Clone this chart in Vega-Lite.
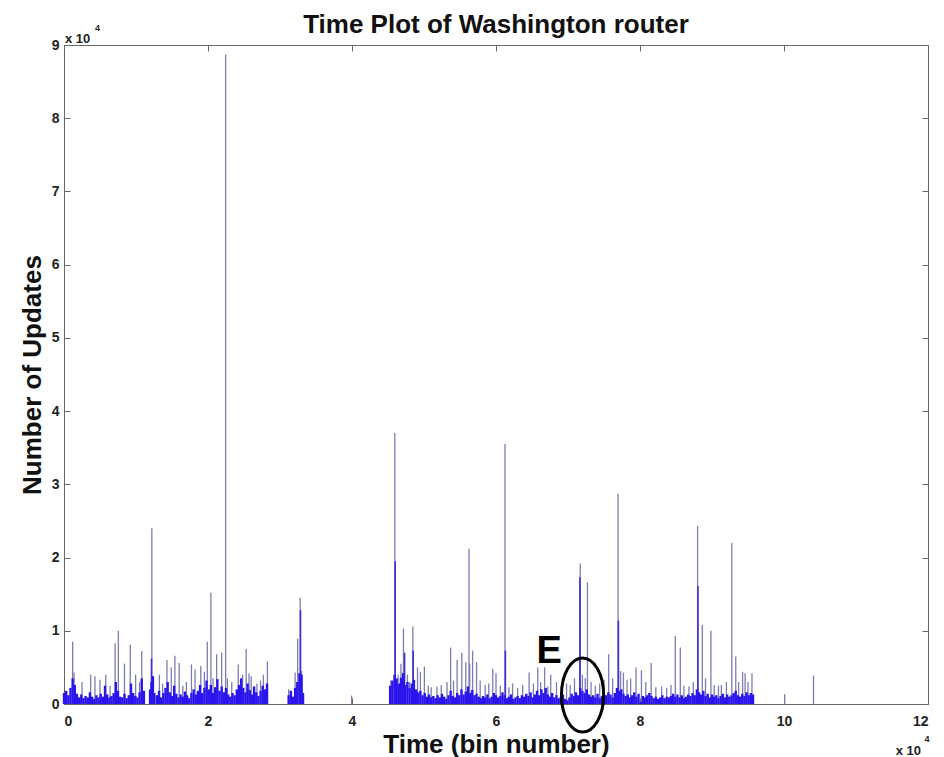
{
  "$schema": "https://vega.github.io/schema/vega-lite/v6.json",
  "width": 864,
  "height": 659,
  "autosize": "none",
  "padding": {"left": 64, "top": 45, "right": 16, "bottom": 53},
  "background": "white",
  "title": {"text": "Time Plot of Washington router", "font": "Liberation Sans", "fontSize": 26, "fontWeight": "bold", "color": "#111111", "offset": 5, "dy": 19, "anchor": "middle"},
  "config": {
    "view": {"stroke": "#666666", "strokeWidth": 1},
    "axis": {"grid": false, "domainColor": "#666666", "tickColor": "#666666", "tickSize": -6, "labelFont": "Liberation Sans", "labelFontSize": 14, "labelFontWeight": "bold", "labelColor": "#222222", "titleFont": "Liberation Sans", "titleFontWeight": "bold", "titleColor": "#111111"}
  },
  "datasets": {
    "base": [
      {"t":0,"v":1500},{"t":300,"v":1800},{"t":600,"v":1200},{"t":900,"v":2200},{"t":1200,"v":3500},{"t":1500,"v":2600},{"t":1800,"v":1400},{"t":2100,"v":900},{"t":2400,"v":1300},{"t":2700,"v":800},
      {"t":3000,"v":1100},{"t":3300,"v":900},{"t":3600,"v":1600},{"t":3900,"v":1000},{"t":4200,"v":700},{"t":4500,"v":1200},{"t":4800,"v":900},{"t":5100,"v":1400},{"t":5400,"v":1000},{"t":5700,"v":2500},
      {"t":6000,"v":1300},{"t":6300,"v":900},{"t":6600,"v":1100},{"t":6900,"v":1500},{"t":7200,"v":3000},{"t":7500,"v":1800},{"t":7800,"v":1000},{"t":8100,"v":900},{"t":8400,"v":1400},{"t":8700,"v":800},
      {"t":9000,"v":1200},{"t":9300,"v":2800},{"t":9600,"v":1500},{"t":9900,"v":1100},{"t":10200,"v":900},{"t":10500,"v":1600},{"t":10800,"v":3500},{"t":11100,"v":1800},
      {"t":11950,"v":2000},{"t":12150,"v":3000},{"t":12350,"v":3800},{"t":12550,"v":1500},
      {"t":12900,"v":1200},{"t":13200,"v":1800},{"t":13500,"v":900},{"t":13800,"v":1500},{"t":14100,"v":2200},{"t":14400,"v":3000},{"t":14700,"v":1600},{"t":15000,"v":1100},{"t":15300,"v":2500},{"t":15600,"v":1400},
      {"t":15900,"v":900},{"t":16200,"v":1300},{"t":16500,"v":1000},{"t":16800,"v":1700},{"t":17100,"v":1200},{"t":17400,"v":800},{"t":17700,"v":1500},{"t":18000,"v":2000},{"t":18300,"v":1300},{"t":18600,"v":1800},
      {"t":18900,"v":2600},{"t":19200,"v":1500},{"t":19500,"v":2200},{"t":19800,"v":3200},{"t":20100,"v":2000},{"t":20400,"v":2600},{"t":20700,"v":1500},{"t":21000,"v":2300},{"t":21300,"v":3400},{"t":21600,"v":1800},
      {"t":21900,"v":2400},{"t":22200,"v":1600},{"t":22500,"v":2200},{"t":22800,"v":1300},{"t":23100,"v":1000},{"t":23400,"v":1500},{"t":23700,"v":1200},{"t":24000,"v":2000},{"t":24300,"v":2600},{"t":24600,"v":3500},
      {"t":24900,"v":2200},{"t":25200,"v":1600},{"t":25500,"v":2800},{"t":25800,"v":1900},{"t":26100,"v":1300},{"t":26400,"v":2400},{"t":26700,"v":1600},{"t":27000,"v":1100},{"t":27300,"v":1800},{"t":27600,"v":2500},
      {"t":27900,"v":2000},{"t":28200,"v":2800},
      {"t":31200,"v":1200},{"t":31500,"v":1800},{"t":31800,"v":1000},{"t":32100,"v":2200},{"t":32400,"v":3000},{"t":32700,"v":4200},{"t":33000,"v":4000},{"t":33200,"v":1500},
      {"t":45300,"v":2500},{"t":45600,"v":3200},{"t":45900,"v":4000},{"t":46200,"v":3500},{"t":46500,"v":2800},{"t":46800,"v":3600},{"t":47100,"v":4200},{"t":47400,"v":2600},{"t":47700,"v":3000},{"t":48000,"v":2200},
      {"t":48300,"v":2800},{"t":48600,"v":3300},{"t":48900,"v":2000},{"t":49200,"v":1600},{"t":49500,"v":1800},{"t":49800,"v":1200},{"t":50100,"v":1500},{"t":50400,"v":1000},{"t":50700,"v":1300},{"t":51000,"v":900},
      {"t":51300,"v":1100},{"t":51600,"v":800},{"t":51900,"v":1200},{"t":52200,"v":900},{"t":52500,"v":1400},{"t":52800,"v":1000},{"t":53100,"v":700},{"t":53400,"v":1200},{"t":53700,"v":1800},{"t":54000,"v":1100},
      {"t":54300,"v":900},{"t":54600,"v":1500},{"t":54900,"v":1200},{"t":55200,"v":2000},{"t":55500,"v":1300},{"t":55800,"v":1700},{"t":56100,"v":2400},{"t":56400,"v":1500},{"t":56700,"v":1900},{"t":57000,"v":1200},
      {"t":57300,"v":1400},{"t":57600,"v":1000},{"t":57900,"v":800},{"t":58200,"v":1100},{"t":58500,"v":900},{"t":58800,"v":1300},{"t":59100,"v":800},{"t":59400,"v":1000},{"t":59700,"v":1500},{"t":60000,"v":1200},
      {"t":60300,"v":900},{"t":60600,"v":1100},{"t":60900,"v":1600},{"t":61200,"v":1200},{"t":61500,"v":800},{"t":61800,"v":1000},{"t":62100,"v":1300},{"t":62400,"v":700},{"t":62700,"v":900},{"t":63000,"v":1100},
      {"t":63300,"v":800},{"t":63600,"v":1200},{"t":63900,"v":1000},{"t":64200,"v":1400},{"t":64500,"v":1100},{"t":64800,"v":1600},{"t":65100,"v":900},{"t":65400,"v":1300},{"t":65700,"v":1800},{"t":66000,"v":1200},
      {"t":66300,"v":2000},{"t":66600,"v":1500},{"t":66900,"v":2200},{"t":67200,"v":1300},{"t":67500,"v":1000},{"t":67800,"v":1500},{"t":68100,"v":900},{"t":68400,"v":1200},{"t":68700,"v":800},{"t":69000,"v":1000},
      {"t":69300,"v":1300},{"t":69600,"v":700},{"t":69900,"v":500},{"t":70200,"v":900},{"t":70500,"v":1400},{"t":70800,"v":1100},{"t":71100,"v":1600},{"t":71400,"v":1200},{"t":71700,"v":2200},{"t":72000,"v":1800},
      {"t":72300,"v":1500},{"t":72600,"v":2000},{"t":72900,"v":1300},{"t":73200,"v":1000},{"t":73500,"v":1200},{"t":73800,"v":900},{"t":74100,"v":1400},{"t":74400,"v":800},{"t":74700,"v":1100},{"t":75000,"v":1000},
      {"t":75300,"v":1200},{"t":75600,"v":1600},{"t":75900,"v":1300},{"t":76200,"v":900},{"t":76500,"v":1500},{"t":76800,"v":2200},{"t":77100,"v":1800},{"t":77400,"v":2000},{"t":77700,"v":1400},{"t":78000,"v":1100},
      {"t":78300,"v":1300},{"t":78600,"v":900},{"t":78900,"v":1200},{"t":79200,"v":1600},{"t":79500,"v":1000},{"t":79800,"v":1400},{"t":80100,"v":300},{"t":80400,"v":1100},{"t":80700,"v":900},{"t":81000,"v":1200},
      {"t":81300,"v":1500},{"t":81600,"v":1100},{"t":81900,"v":800},{"t":82200,"v":1000},{"t":82500,"v":700},{"t":82800,"v":900},{"t":83100,"v":1200},{"t":83400,"v":800},{"t":83700,"v":1000},{"t":84000,"v":900},
      {"t":84300,"v":1100},{"t":84600,"v":1400},{"t":84900,"v":1000},{"t":85200,"v":1300},{"t":85500,"v":900},{"t":85800,"v":1200},{"t":86100,"v":800},{"t":86400,"v":1000},{"t":86700,"v":1300},{"t":87000,"v":1100},
      {"t":87300,"v":1500},{"t":87600,"v":1200},{"t":87900,"v":2000},{"t":88200,"v":1600},{"t":88500,"v":1300},{"t":88800,"v":1800},{"t":89100,"v":1100},{"t":89400,"v":1400},{"t":89700,"v":900},{"t":90000,"v":1300},
      {"t":90300,"v":1000},{"t":90600,"v":1200},{"t":90900,"v":800},{"t":91200,"v":1100},{"t":91500,"v":1400},{"t":91800,"v":900},{"t":92100,"v":1300},{"t":92400,"v":1000},{"t":92700,"v":1200},{"t":93000,"v":1500},
      {"t":93300,"v":1800},{"t":93600,"v":1200},{"t":93900,"v":1000},{"t":94200,"v":1400},{"t":94500,"v":1100},{"t":94800,"v":1600},{"t":95100,"v":1200},{"t":95400,"v":1500},{"t":95700,"v":1300}
    ],
    "dense": [
      {"t":12150,"v":6200},{"t":32850,"v":12800},{"t":46000,"v":19500},{"t":47300,"v":7000},{"t":48500,"v":7300},{"t":61300,"v":7300},{"t":71650,"v":17300},{"t":77000,"v":11400},{"t":88050,"v":16100}
    ],
    "spikes": [
      {"t":1200,"v":8500},{"t":1400,"v":4300},{"t":2500,"v":3000},{"t":3700,"v":4000},{"t":4300,"v":3800},{"t":5000,"v":3300},{"t":5800,"v":4000},{"t":6400,"v":2500},{"t":7100,"v":8300},{"t":7550,"v":10000},
      {"t":8400,"v":5500},{"t":9200,"v":8100},{"t":9950,"v":4000},{"t":10500,"v":3000},{"t":10800,"v":7200},{"t":12200,"v":24000},{"t":13250,"v":4000},{"t":13700,"v":2800},{"t":14300,"v":6000},{"t":14900,"v":5000},
      {"t":15400,"v":6600},{"t":16000,"v":5600},{"t":16500,"v":2500},{"t":17000,"v":3000},{"t":17700,"v":5400},{"t":18200,"v":4700},{"t":19000,"v":5200},{"t":19500,"v":4400},{"t":19900,"v":8500},{"t":20400,"v":15200},
      {"t":20700,"v":3500},{"t":21200,"v":6800},{"t":21900,"v":7000},{"t":22450,"v":88700},{"t":22700,"v":3500},{"t":23300,"v":3000},{"t":24200,"v":5400},{"t":24800,"v":4000},{"t":25300,"v":7500},{"t":25700,"v":4200},
      {"t":26000,"v":3800},{"t":26800,"v":2800},{"t":27300,"v":3200},{"t":27700,"v":4000},{"t":28250,"v":5800},
      {"t":31200,"v":2000},{"t":31600,"v":1500},{"t":32100,"v":4300},{"t":32300,"v":2500},{"t":32450,"v":8900},{"t":32800,"v":14500},{"t":33000,"v":4500},
      {"t":39950,"v":1150},
      {"t":45400,"v":3200},{"t":45950,"v":37000},{"t":46400,"v":4000},{"t":46800,"v":5500},{"t":47150,"v":10300},{"t":47700,"v":4000},{"t":48000,"v":3000},{"t":48450,"v":10600},{"t":49100,"v":5000},{"t":49500,"v":4400},
      {"t":50050,"v":5100},{"t":50600,"v":2500},{"t":51000,"v":2300},{"t":51800,"v":2400},{"t":52400,"v":2600},{"t":53200,"v":3000},{"t":53700,"v":7700},{"t":54100,"v":3200},{"t":54600,"v":6000},{"t":55250,"v":7000},
      {"t":55800,"v":5700},{"t":56250,"v":21200},{"t":56350,"v":5500},{"t":56750,"v":7300},{"t":57300,"v":5700},{"t":57800,"v":3200},{"t":58500,"v":2600},{"t":59000,"v":2800},{"t":59550,"v":4800},{"t":60000,"v":4200},
      {"t":60600,"v":2500},{"t":61250,"v":35500},{"t":61800,"v":2300},{"t":62300,"v":2800},{"t":63000,"v":2200},{"t":63700,"v":2600},{"t":64600,"v":4300},{"t":65200,"v":2800},{"t":65800,"v":5000},{"t":66200,"v":3000},
      {"t":66750,"v":5000},{"t":67200,"v":2400},{"t":67600,"v":4000},{"t":68400,"v":3000},{"t":69100,"v":2200},{"t":69800,"v":2800},{"t":70300,"v":2600},{"t":70900,"v":3500},{"t":71700,"v":19200},{"t":72000,"v":4000},
      {"t":72400,"v":3500},{"t":72700,"v":16600},{"t":73200,"v":3000},{"t":73800,"v":2500},{"t":74400,"v":2800},{"t":75000,"v":3300},{"t":75650,"v":6800},{"t":76200,"v":3500},{"t":76950,"v":28700},{"t":77300,"v":4500},
      {"t":77700,"v":4300},{"t":78200,"v":3300},{"t":78700,"v":3500},{"t":79450,"v":5000},{"t":80200,"v":4600},{"t":80800,"v":3000},{"t":81550,"v":5600},{"t":82200,"v":2300},{"t":83000,"v":2400},{"t":83700,"v":2200},
      {"t":84300,"v":2600},{"t":84900,"v":9300},{"t":85600,"v":7700},{"t":86100,"v":2500},{"t":86800,"v":2400},{"t":87400,"v":3000},{"t":88000,"v":24300},{"t":88650,"v":10800},{"t":89100,"v":3500},{"t":89850,"v":10000},
      {"t":90300,"v":2600},{"t":90900,"v":2500},{"t":91300,"v":2600},{"t":92000,"v":3000},{"t":92750,"v":22000},{"t":93300,"v":6500},{"t":93700,"v":3000},{"t":94250,"v":4400},{"t":94600,"v":4200},{"t":95000,"v":3000},
      {"t":95550,"v":4200},
      {"t":100100,"v":1350},{"t":104100,"v":3900}
    ],
    "notes": [{"label": "E", "t": 67370, "v": 5600}],
    "circle": [{"t": 72020, "v": 1230}]
  },
  "layer": [
    {
      "data": {"name": "spikes"},
      "mark": {"type": "rule", "color": "#7c7cb4", "strokeWidth": 1.3},
      "encoding": {
        "x": {"field": "t", "type": "quantitative", "scale": {"domain": [0, 120000], "nice": false, "zero": false}, "axis": {"orient": "top", "values": [0,20000,40000,60000,80000,100000,120000], "labels": false, "title": null, "domain": false}},
        "y": {"field": "v", "type": "quantitative", "scale": {"domain": [0, 90000], "nice": false}, "axis": {"orient": "right", "values": [0,10000,20000,30000,40000,50000,60000,70000,80000,90000], "labels": false, "title": null, "domain": false}},
        "y2": {"datum": 0}
      }
    },
    {
      "data": {"name": "dense"},
      "mark": {"type": "rule", "color": "#4030d0", "strokeWidth": 1.6},
      "encoding": {
        "x": {"field": "t", "type": "quantitative", "axis": null},
        "y": {"field": "v", "type": "quantitative", "axis": null},
        "y2": {"datum": 0}
      }
    },
    {
      "data": {"name": "base"},
      "mark": {"type": "rule", "color": "#2a14ee", "strokeWidth": 2.4},
      "encoding": {
        "x": {"field": "t", "type": "quantitative", "axis": {"orient": "bottom", "values": [0,20000,40000,60000,80000,100000,120000], "labelExpr": "datum.value / 10000", "labelPadding": 16, "title": "Time (bin number)", "titleFontSize": 26, "titlePadding": 3}},
        "y": {"field": "v", "type": "quantitative", "axis": {"orient": "left", "values": [0,10000,20000,30000,40000,50000,60000,70000,80000,90000], "labelExpr": "datum.value / 10000", "labelPadding": 11, "title": "Number of Updates", "titleFontSize": 26, "titlePadding": 6}},
        "y2": {"datum": 0}
      }
    },
    {
      "data": {"name": "circle"},
      "mark": {"type": "point", "shape": "M-0.57,0A0.57,1 0 1,1 0.57,0A0.57,1 0 1,1 -0.57,0Z", "size": 5476, "filled": false, "stroke": "#000000", "strokeWidth": 3, "opacity": 1},
      "encoding": {"x": {"field": "t", "type": "quantitative", "axis": null}, "y": {"field": "v", "type": "quantitative", "axis": null}}
    },
    {
      "data": {"name": "notes"},
      "mark": {"type": "text", "font": "Liberation Sans", "fontSize": 38, "fontWeight": "bold", "color": "#000000", "align": "center", "baseline": "alphabetic"},
      "encoding": {"x": {"field": "t", "type": "quantitative", "axis": null}, "y": {"field": "v", "type": "quantitative", "axis": null}, "text": {"field": "label"}}
    },
    {
      "data": {"values": [{}]},
      "mark": {"type": "text", "text": "x 10", "font": "Liberation Sans", "fontSize": 13, "fontWeight": "bold", "color": "#222222", "align": "left", "baseline": "alphabetic", "dx": 1, "dy": -2},
      "encoding": {"x": {"datum": 0, "type": "quantitative", "axis": null}, "y": {"datum": 90000, "type": "quantitative", "axis": null}}
    },
    {
      "data": {"values": [{}]},
      "mark": {"type": "text", "text": "4", "font": "Liberation Sans", "fontSize": 9, "fontWeight": "bold", "color": "#222222", "align": "left", "baseline": "alphabetic", "dx": 31, "dy": -14},
      "encoding": {"x": {"datum": 0, "type": "quantitative", "axis": null}, "y": {"datum": 90000, "type": "quantitative", "axis": null}}
    },
    {
      "data": {"values": [{}]},
      "mark": {"type": "text", "text": "x 10", "font": "Liberation Sans", "fontSize": 13, "fontWeight": "bold", "color": "#222222", "align": "right", "baseline": "alphabetic", "dx": -7, "dy": 51},
      "encoding": {"x": {"datum": 120000, "type": "quantitative", "axis": null}, "y": {"datum": 0, "type": "quantitative", "axis": null}}
    },
    {
      "data": {"values": [{}]},
      "mark": {"type": "text", "text": "4", "font": "Liberation Sans", "fontSize": 9, "fontWeight": "bold", "color": "#222222", "align": "center", "baseline": "alphabetic", "dx": -1, "dy": 38},
      "encoding": {"x": {"datum": 120000, "type": "quantitative", "axis": null}, "y": {"datum": 0, "type": "quantitative", "axis": null}}
    }
  ],
  "resolve": {"axis": {"x": "independent", "y": "independent"}}
}
